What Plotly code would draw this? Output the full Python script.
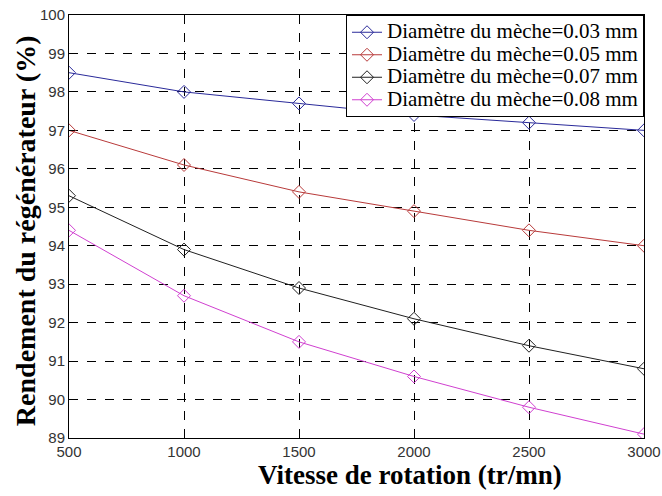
import plotly.graph_objects as go

vitesse = [500, 1000, 1500, 2000, 2500, 3000]
d003 = [98.5, 98.0, 97.7, 97.4, 97.2, 97.0]
d005 = [97.0, 96.1, 95.4, 94.9, 94.4, 94.0]
d007 = [95.3, 93.9, 92.9, 92.1, 91.4, 90.8]
d008 = [94.4, 92.7, 91.5, 90.6, 89.8, 89.1]
names = ["Diamètre du mèche=0.03 mm", "Diamètre du mèche=0.05 mm",
         "Diamètre du mèche=0.07 mm", "Diamètre du mèche=0.08 mm"]
colors = ["#2a2a9a", "#b83a3a", "#202020", "#d040d0"]
series = [d003, d005, d007, d008]

serif = "Liberation Serif, Times New Roman, serif"
sans = "Liberation Sans, Arial, sans-serif"

fig = go.Figure()
for n, c, s in zip(names, colors, series):
    fig.add_trace(go.Scatter(x=vitesse, y=s, name='<span style="font-size:21px">' + n + '</span>',
                             mode="lines+markers",
                             line=dict(color=c, width=1),
                             marker=dict(symbol="diamond-open", size=10, color=c, line=dict(width=1))))

axis_common = dict(showgrid=True, automargin=False, gridcolor="black", griddash="dash", gridwidth=1,
                   showline=True, linecolor="black", mirror=True, linewidth=1,
                   ticks="inside", ticklen=4, tickcolor="black", zeroline=False,
                   ticklabeloverflow="allow",
                   tickfont=dict(family=sans, size=15, color="#333"))

fig.update_layout(
    width=662, height=496,
    margin=dict(l=69, r=18, t=15, b=58),
    paper_bgcolor="white", plot_bgcolor="white",
    showlegend=True,
    legend=dict(x=1, y=1, xanchor="right", yanchor="top",
                bordercolor="black", borderwidth=1, bgcolor="white",
                font=dict(family=serif, size=15, color="black"),
                tracegroupgap=0, itemwidth=30),
    xaxis=dict(range=[500, 3000], tickvals=vitesse, **axis_common),
    yaxis=dict(range=[89, 100], dtick=1, **axis_common),
    annotations=[
        dict(text="<b>Vitesse de rotation (tr/mn)</b>", xref="paper", yref="paper",
             x=0.593, y=-0.088, xanchor="center", yanchor="middle", showarrow=False,
             font=dict(family=serif, size=27, color="black")),
        dict(text="<b>Rendement du régénérateur (%)</b>", xref="paper", yref="paper",
             x=-0.0765, y=0.489, xanchor="center", yanchor="middle", showarrow=False,
             textangle=-90, font=dict(family=serif, size=28, color="black")),
    ],
)
fig.write_html("out.html", config={"displayModeBar": False},
               post_script="document.body.style.margin='0';document.body.style.overflow='hidden';")
